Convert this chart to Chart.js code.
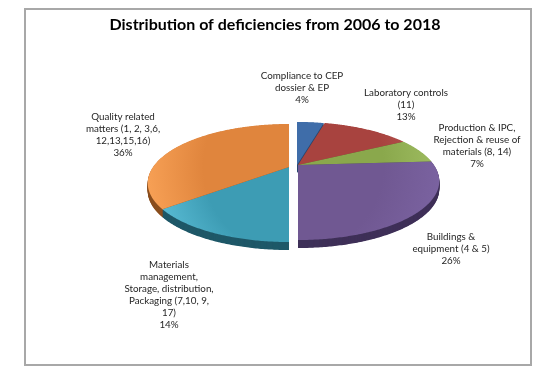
<!DOCTYPE html>
<html>
<head>
<meta charset="utf-8">
<script src="https://cdn.jsdelivr.net/npm/chart.js@4.4.0/dist/chart.umd.min.js"></script>
<style>
  html, body { margin: 0; padding: 0; background: #fff; }
  #wrap { width: 550px; height: 376px; }
</style>
</head>
<body>
<div id="wrap"><canvas id="pie"></canvas></div>
<script>
// share of deficiencies per group, clockwise from 12 o'clock
const categories = [
  'Compliance to CEP dossier & EP',
  'Laboratory controls (11)',
  'Production & IPC, Rejection & reuse of materials (8, 14)',
  'Buildings & equipment (4 & 5)',
  'Materials management, Storage, distribution, Packaging (7,10, 9, 17)',
  'Quality related matters (1, 2, 3,6, 12,13,15,16)'
]
const shares = [4, 13, 7, 26, 14, 36]
const labelLines = [
  ['Compliance to CEP', 'dossier & EP'],
  ['Laboratory controls', '(11)'],
  ['Production & IPC,', 'Rejection & reuse of', 'materials (8, 14)'],
  ['Buildings &', 'equipment (4 & 5)'],
  ['Materials', 'management,', 'Storage, distribution,', 'Packaging (7,10, 9,', '17)'],
  ['Quality related', 'matters (1, 2, 3,6,', '12,13,15,16)']
]

const topColors  = ['#3f6da9', '#a8433f', '#8aa84c', '#705892', '#3d9cb4', '#e0853d']
const rimColors  = ['#5a86c0', '#bd5a55', '#9fbd62', '#7a62a0', '#5cbfd8', '#f7a055']
const sideColors = ['#27466e', '#6e2826', '#56702c', '#3f3058', '#1f5868', '#8a4e1e']

// tilted pie seen in perspective: centre, radius, back/front squash, thickness
const PIE = { x: 293, y: 165, r: 136, a: 54.7, b: -0.271, depth: 8 }
const shiftX = [4, 5, 5, 5, -4, -4]
const shiftY = [0, 0, 0, 0, 2, 2]
// centre of first label line for each slice
const labelAt = [[302, 76], [406, 93], [477, 128], [451, 237], [169, 265], [123, 117]]
const lineH = 12

function project(u, v, i, drop) {
  const w = 1 + PIE.b * v
  return [PIE.x + shiftX[i] + PIE.r * u / w, PIE.y + shiftY[i] + PIE.a * v / w + drop]
}

function slicePath(ctx, arc, i, drop) {
  ctx.beginPath()
  const c = project(0, 0, i, drop)
  ctx.moveTo(c[0], c[1])
  const n = Math.max(2, Math.ceil((arc.endAngle - arc.startAngle) / 0.01))
  for (let k = 0; k <= n; k++) {
    const t = arc.startAngle + (arc.endAngle - arc.startAngle) * k / n
    const p = project(Math.cos(t), Math.sin(t), i, drop)
    ctx.lineTo(p[0], p[1])
  }
  ctx.closePath()
}

const pie3d = {
  id: 'pie3d',
  beforeDraw(chart) {
    const ctx = chart.ctx
    ctx.save()
    ctx.strokeStyle = '#a8a8a8'
    ctx.lineWidth = 2
    ctx.strokeRect(25, 9, 506, 356)
    ctx.restore()
  },
  beforeDatasetsDraw(chart) {
    const ctx = chart.ctx
    const arcs = chart.getDatasetMeta(0).data
    ctx.save()
    // side walls first, then the top faces
    for (let d = PIE.depth; d >= 0.5; d -= 0.5) {
      arcs.forEach((a, i) => {
        slicePath(ctx, a, i, d)
        ctx.fillStyle = sideColors[i]
        ctx.fill()
      })
    }
    arcs.forEach((a, i) => {
      const c = project(0, 0, i, 0)
      const g = ctx.createRadialGradient(c[0], c[1], 0, c[0], c[1], PIE.r * 1.05)
      g.addColorStop(0, topColors[i])
      g.addColorStop(0.6, topColors[i])
      g.addColorStop(1, rimColors[i])
      slicePath(ctx, a, i, 0)
      ctx.fillStyle = g
      ctx.fill()
    })
    ctx.restore()
    return false
  },
  afterDraw(chart) {
    const ctx = chart.ctx
    ctx.save()
    ctx.font = '9.8px Lato'
    ctx.fillStyle = '#262626'
    ctx.textAlign = 'center'
    ctx.textBaseline = 'middle'
    labelLines.forEach((lines, i) => {
      const [x, y] = labelAt[i]
      const all = lines.concat([shares[i] + '%'])
      all.forEach((t, j) => ctx.fillText(t, x, y + j * lineH))
    })
    ctx.restore()
  }
}

new Chart(document.getElementById('pie'), {
  type: 'pie',
  data: {
    labels: categories,
    datasets: [{
      data: shares,
      backgroundColor: topColors,
      borderWidth: 0
    }]
  },
  options: {
    responsive: true,
    maintainAspectRatio: false,
    animation: false,
    events: [],
    layout: { padding: { top: 0, bottom: 10, left: 0, right: 0 } },
    plugins: {
      legend: { display: false },
      tooltip: { enabled: false },
      title: {
        display: true,
        text: 'Distribution of deficiencies from 2006 to 2018',
        color: '#000',
        font: { family: 'Lato', size: 16, weight: 'bold' },
        padding: { top: 15, bottom: 10 }
      }
    }
  },
  plugins: [pie3d]
})
</script>
</body>
</html>
